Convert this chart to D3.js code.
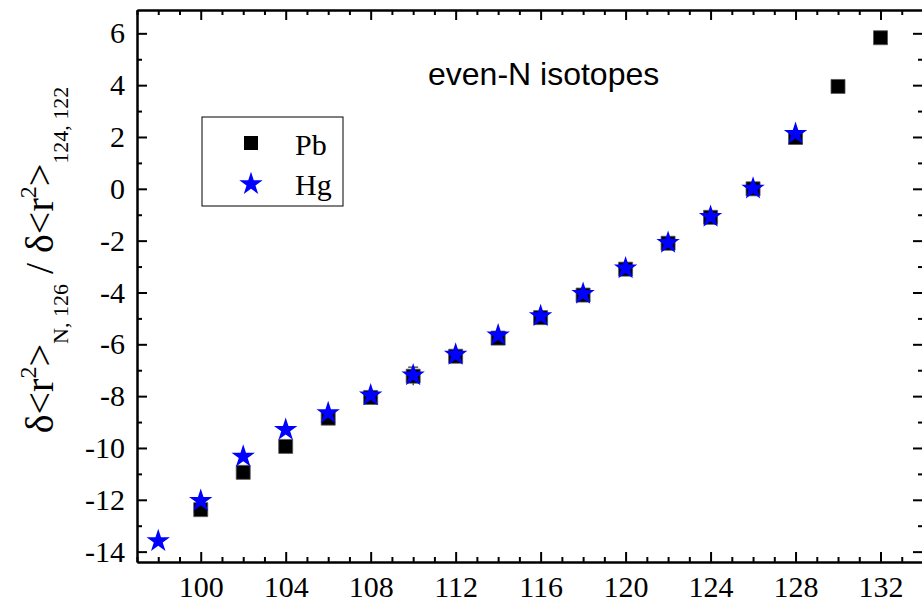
<!DOCTYPE html>
<html>
<head>
<meta charset="utf-8">
<script src="https://cdn.jsdelivr.net/npm/d3@7"></script>
<style>
  body { margin: 0; background: #fff; }
  svg { display: block; }
</style>
</head>
<body>
<svg id="chart" width="922" height="602"></svg>
<script>
// neutron numbers and values
const pbN = [100, 102, 104, 106, 108, 110, 112, 114, 116, 118, 120, 122, 124, 126, 128, 130, 132];
const pbVal = [-12.38, -10.94, -9.94, -8.85, -8.05, -7.23, -6.46, -5.76, -4.97, -4.1, -3.1, -2.1, -1.1, 0, 1.98, 3.95, 5.83];
const pbErr = [0, 0, 0, 0, 0, 0.35, 0, 0, 0, 0, 0, 0, 0, 0, 0, 0, 0];
const hgN = [98, 100, 102, 104, 106, 108, 110, 112, 114, 116, 118, 120, 122, 124, 126, 128];
const hgVal = [-13.59, -12.04, -10.33, -9.3, -8.65, -7.97, -7.2, -6.4, -5.65, -4.91, -4.05, -3.07, -2.08, -1.08, 0.01, 2.12];
const xTicks = [100, 104, 108, 112, 116, 120, 124, 128, 132];
const yTicks = [-14, -12, -10, -8, -6, -4, -2, 0, 2, 4, 6];

const svg = d3.select("#chart");
const padL = 137, padR = 923, padT = 10, padB = 562;

const x = d3.scaleLinear().domain([97, 134]).range([padL, padR]);
const y = d3.scaleLinear().domain([-14.4, 6.9]).range([padB, padT]);

const xMinor = d3.range(97, 135, 1).filter(v => v % 4 != 0);
const yMinor = d3.range(-15, 8, 2).filter(v => v > -14.4 && v < 6.9);

const serif = "'Liberation Serif', 'Times New Roman', serif";
const plain = d => String(d);   // keep the hyphen minus

function styleAxis(g) {
    g.attr("font-family", serif);
    g.select(".domain").attr("stroke", "#000").attr("stroke-width", 2);
    g.selectAll(".tick line").attr("stroke", "#000").attr("stroke-width", 2);
    g.selectAll("text").attr("font-family", serif).attr("font-size", 30).attr("fill", "#000");
}

// bottom
svg.append("g").attr("transform", `translate(0,${padB})`)
    .call(d3.axisBottom(x).tickValues(xTicks).tickSizeInner(-10).tickSizeOuter(0).tickPadding(14).tickFormat(plain))
    .call(styleAxis);
svg.append("g").attr("transform", `translate(0,${padB})`)
    .call(d3.axisBottom(x).tickValues(xMinor).tickSizeInner(-5).tickSizeOuter(0).tickFormat(""))
    .call(styleAxis);
// top
svg.append("g").attr("transform", `translate(0,${padT})`)
    .call(d3.axisTop(x).tickValues(xTicks).tickSizeInner(-10).tickSizeOuter(0).tickFormat(""))
    .call(styleAxis);
svg.append("g").attr("transform", `translate(0,${padT})`)
    .call(d3.axisTop(x).tickValues(xMinor).tickSizeInner(-5).tickSizeOuter(0).tickFormat(""))
    .call(styleAxis);
// left
svg.append("g").attr("transform", `translate(${padL},0)`)
    .call(d3.axisLeft(y).tickValues(yTicks).tickSizeInner(-10).tickSizeOuter(0).tickPadding(12).tickFormat(plain))
    .call(styleAxis);
svg.append("g").attr("transform", `translate(${padL},0)`)
    .call(d3.axisLeft(y).tickValues(yMinor).tickSizeInner(-5).tickSizeOuter(0).tickFormat(""))
    .call(styleAxis);
// right
svg.append("g").attr("transform", `translate(${padR},0)`)
    .call(d3.axisRight(y).tickValues(yTicks).tickSizeInner(-10).tickSizeOuter(0).tickFormat(""))
    .call(styleAxis);
svg.append("g").attr("transform", `translate(${padR},0)`)
    .call(d3.axisRight(y).tickValues(yMinor).tickSizeInner(-5).tickSizeOuter(0).tickFormat(""))
    .call(styleAxis);

// error bars
const errData = pbN.map((n, i) => ({n: n, v: pbVal[i], e: pbErr[i]})).filter(d => d.e > 0);
const eb = svg.append("g").attr("stroke", "#000").attr("stroke-width", 1);
errData.forEach(d => {
    eb.append("line").attr("x1", x(d.n)).attr("x2", x(d.n)).attr("y1", y(d.v - d.e)).attr("y2", y(d.v + d.e));
    eb.append("line").attr("x1", x(d.n) - 5).attr("x2", x(d.n) + 5).attr("y1", y(d.v + d.e)).attr("y2", y(d.v + d.e));
});

const square = d3.symbol().type(d3.symbolSquare).size(196);
const star = d3.symbol().type(d3.symbolStar).size(170);

svg.append("g").selectAll("path")
    .data(pbN)
    .join("path")
    .attr("d", square)
    .attr("transform", (d, i) => `translate(${x(d)},${y(pbVal[i])})`)
    .attr("fill", "#000")
    .attr("stroke", "#555")
    .attr("stroke-width", 0.8);

svg.append("g").selectAll("path")
    .data(hgN)
    .join("path")
    .attr("d", star)
    .attr("transform", (d, i) => `translate(${x(d)},${y(hgVal[i])})`)
    .attr("fill", "#0000ff");

// legend
const lg = svg.append("g");
lg.append("rect").attr("x", 202).attr("y", 117).attr("width", 141).attr("height", 89)
    .attr("fill", "#fff").attr("stroke", "#000").attr("stroke-width", 1);
lg.append("path").attr("d", square).attr("transform", "translate(251,143)").attr("fill", "#000");
lg.append("path").attr("d", star).attr("transform", "translate(251,184)").attr("fill", "#0000ff");
lg.append("text").attr("x", 295).attr("y", 155).text("Pb")
    .attr("font-family", serif).attr("font-size", 30);
lg.append("text").attr("x", 295).attr("y", 195).text("Hg")
    .attr("font-family", serif).attr("font-size", 30);

// annotation
svg.append("text").attr("x", 428).attr("y", 85).text("even-N isotopes")
    .attr("font-family", "'Liberation Sans', Arial, sans-serif").attr("font-size", 32);

// y label
const yl = svg.append("text")
    .attr("transform", "translate(53,260) rotate(-90)")
    .attr("text-anchor", "middle")
    .attr("font-family", serif)
    .attr("font-size", 40);
yl.append("tspan").text("δ<r");
yl.append("tspan").attr("baseline-shift", "17px").attr("font-size", 24).text("2");
yl.append("tspan").text(">");
yl.append("tspan").attr("baseline-shift", "-15px").attr("font-size", 22).text("N, 126");
yl.append("tspan").text(" / δ<r");
yl.append("tspan").attr("baseline-shift", "17px").attr("font-size", 24).text("2");
yl.append("tspan").text(">");
yl.append("tspan").attr("baseline-shift", "-15px").attr("font-size", 22).text("124, 122");
</script>
</body>
</html>
